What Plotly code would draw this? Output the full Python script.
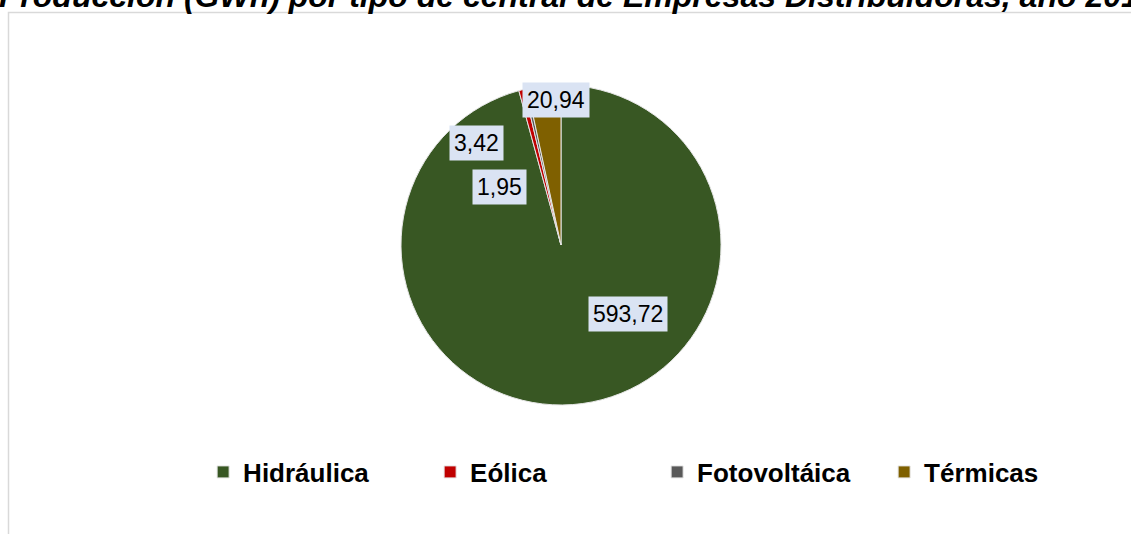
import plotly.graph_objects as go

categories = ["Hidráulica", "Eólica", "Fotovoltáica", "Térmicas"]
values = [593.72, 3.42, 1.95, 20.94]
colors = ["#385723", "#c00000", "#595959", "#7f6000"]
title_text = "Producción (GWh) por tipo de central de Empresas Distribuidoras, año 2019"

W, H = 1131, 534

fig = go.Figure()
fig.add_trace(go.Pie(
    labels=categories,
    values=values,
    sort=False,
    direction="clockwise",
    rotation=0,
    marker=dict(colors=colors, line=dict(color="#e6e6e6", width=1)),
    textinfo="none",
    hoverinfo="label+value",
    domain=dict(x=[401 / W, 721 / W], y=[1 - 405 / H, 1 - 85 / H]),
))

# data label positions (paper coords)
label_pos = [(628, 314), (476, 143), (499, 187), (556, 100)]
for v, (px, py) in zip(values, label_pos):
    fig.add_annotation(
        x=px / W, y=1 - py / H, xref="paper", yref="paper",
        xanchor="center", yanchor="middle",
        text=f"{v:.2f}".replace(".", ","),
        showarrow=False, bgcolor="#dae3f3", borderpad=4,
        font=dict(family="Liberation Sans, Arial", size=23, color="#000000"),
    )

fig.add_annotation(
    x=0, y=1, xref="paper", yref="paper", xanchor="left", yanchor="top",
    yshift=24, xshift=-3, showarrow=False,
    text=f"<b><i>{title_text}</i></b>",
    font=dict(family="Liberation Sans, Arial", size=32, color="#000000"),
)

fig.add_shape(type="rect", xref="paper", yref="paper",
              x0=8.5 / W, x1=1.05, y0=-0.05, y1=1 - 12.5 / H,
              line=dict(color="#d9d9d9", width=1.5), fillcolor="rgba(0,0,0,0)")

fig.update_layout(
    width=W, height=H,
    margin=dict(l=0, r=0, t=0, b=0),
    paper_bgcolor="white", plot_bgcolor="white",
    separators=",.",
    showlegend=True,
    legend=dict(orientation="h", x=0.581, xanchor="center", y=1 - 472 / H, yanchor="middle",
                font=dict(family="Liberation Sans, Arial", size=26, color="#000000", weight="bold"),
                entrywidth=182, itemwidth=30, traceorder="normal"),
)

fig.write_html("out.html")
